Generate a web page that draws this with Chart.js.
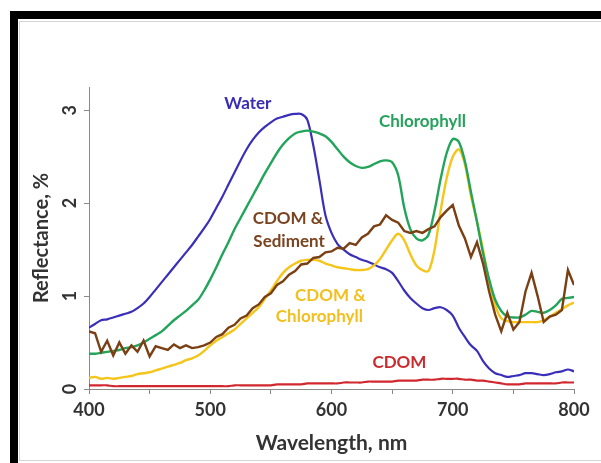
<!DOCTYPE html>
<html>
<head>
<meta charset="utf-8">
<script src="https://cdn.jsdelivr.net/npm/chart.js@4.4.1/dist/chart.umd.min.js"></script>
<style>
  body { margin:0; background:#fff; }
  #frame { position:absolute; left:10px; top:11px; width:591px; height:452px; border-top:8px solid #000; border-left:8px solid #000; box-sizing:border-box; }
  #inner { position:absolute; left:19px; top:21px; width:590px; height:440px; border:1px solid #d4d4d4; border-right:none; box-sizing:border-box; }
  #c { position:absolute; left:0; top:0; }
</style>
</head>
<body>
<div id="frame"></div>
<div id="inner"></div>
<canvas id="c" width="601" height="463"></canvas>
<script>
// wavelength, nm (every 5 nm)
const wavelengths = Array.from({length: 81}, (_, i) => 400 + 5 * i);

// Reflectance, %
const water = [
  0.66,0.70,0.74,0.75,0.77,0.79,0.81,0.83,0.87,0.92,
  0.99,1.07,1.15,1.23,1.31,1.39,1.47,1.55,1.64,1.73,
  1.83,1.95,2.07,2.20,2.33,2.46,2.58,2.68,2.76,2.82,
  2.87,2.91,2.93,2.95,2.96,2.96,2.90,2.62,2.25,1.87,
  1.68,1.56,1.50,1.45,1.42,1.39,1.37,1.34,1.31,1.29,
  1.25,1.16,1.06,0.98,0.92,0.87,0.85,0.87,0.88,0.85,
  0.79,0.66,0.56,0.47,0.41,0.30,0.22,0.17,0.15,0.13,
  0.14,0.15,0.17,0.17,0.16,0.15,0.16,0.18,0.19,0.21,
  0.19];
const chlorophyll = [
  0.38,0.38,0.39,0.40,0.41,0.42,0.44,0.45,0.47,0.50,
  0.54,0.58,0.62,0.68,0.74,0.79,0.84,0.90,0.96,1.06,
  1.18,1.31,1.45,1.58,1.72,1.84,1.96,2.08,2.20,2.32,
  2.43,2.54,2.63,2.70,2.75,2.77,2.78,2.77,2.75,2.72,
  2.66,2.58,2.50,2.44,2.40,2.38,2.39,2.42,2.45,2.46,
  2.44,2.30,1.95,1.72,1.62,1.60,1.66,1.92,2.26,2.54,
  2.69,2.66,2.45,2.12,1.80,1.46,1.18,0.96,0.84,0.78,
  0.77,0.77,0.80,0.84,0.83,0.82,0.85,0.90,0.97,0.98,
  0.99];
const cdomChl = [
  0.12,0.13,0.11,0.12,0.11,0.12,0.13,0.14,0.16,0.17,
  0.18,0.20,0.22,0.24,0.26,0.28,0.31,0.33,0.36,0.41,
  0.47,0.52,0.56,0.60,0.64,0.70,0.76,0.82,0.88,0.97,
  1.06,1.16,1.25,1.31,1.35,1.38,1.39,1.39,1.38,1.35,
  1.33,1.31,1.30,1.29,1.28,1.28,1.29,1.33,1.40,1.50,
  1.60,1.67,1.60,1.45,1.33,1.28,1.27,1.50,1.92,2.27,
  2.50,2.58,2.42,2.08,1.80,1.50,1.15,0.90,0.76,0.73,
  0.72,0.72,0.72,0.72,0.72,0.74,0.78,0.82,0.86,0.90,
  0.93];
const cdomSed = [
  0.62,0.60,0.40,0.52,0.36,0.50,0.38,0.47,0.40,0.52,
  0.35,0.46,0.44,0.42,0.48,0.44,0.47,0.44,0.45,0.47,
  0.50,0.56,0.59,0.66,0.69,0.76,0.79,0.87,0.91,0.99,
  1.03,1.12,1.16,1.23,1.27,1.34,1.35,1.41,1.42,1.47,
  1.48,1.52,1.51,1.57,1.55,1.63,1.67,1.75,1.77,1.87,
  1.82,1.79,1.70,1.68,1.70,1.68,1.72,1.75,1.85,1.92,
  1.98,1.76,1.62,1.42,1.58,1.35,1.05,0.80,0.62,0.82,
  0.64,0.72,1.05,1.25,1.00,0.72,0.78,0.80,0.85,1.28,
  1.12];
const cdom = [
  0.04,0.04,0.04,0.04,0.03,0.03,0.03,0.03,0.03,0.03,
  0.03,0.03,0.03,0.03,0.03,0.03,0.03,0.03,0.03,0.03,
  0.03,0.03,0.03,0.03,0.04,0.04,0.04,0.04,0.04,0.04,
  0.04,0.05,0.05,0.05,0.05,0.05,0.06,0.06,0.06,0.06,
  0.06,0.06,0.07,0.07,0.07,0.07,0.08,0.08,0.08,0.08,
  0.08,0.09,0.09,0.09,0.09,0.10,0.10,0.10,0.11,0.11,
  0.11,0.11,0.10,0.10,0.09,0.09,0.08,0.07,0.06,0.05,
  0.05,0.05,0.06,0.06,0.06,0.06,0.06,0.06,0.07,0.07,
  0.07];

const xTicks = [400, 500, 600, 700, 800];
const yTicks = [0, 1, 2, 3];

// labels written on the plot: [text, wavelength, reflectance, colour]
const notes = [
  ["Water", 531, 3.07, "#3a2db3"],
  ["Chlorophyll", 675, 2.88, "#25a35c"],
  ["CDOM &", 564, 1.83, "#7a4420"],
  ["Sediment", 565, 1.59, "#7a4420"],
  ["CDOM &", 599, 1.01, "#f2c01e"],
  ["Chlorophyll", 590, 0.775, "#f2c01e"],
  ["CDOM", 656, 0.28, "#cc2b2e"]
];

function pts(arr) { return wavelengths.map((w, i) => ({x: w, y: arr[i]})); }

const notesPlugin = {
  id: "notes",
  afterDatasetsDraw(chart) {
    const ctx = chart.ctx, xs = chart.scales.x, ys = chart.scales.y;
    ctx.save();
    ctx.font = "bold 17px Lato";
    ctx.textAlign = "center";
    ctx.textBaseline = "middle";
    notes.forEach(n => {
      ctx.fillStyle = n[3];
      ctx.fillText(n[0], xs.getPixelForValue(n[1]), ys.getPixelForValue(n[2]));
    });
    ctx.restore();
  }
};

const line = (label, data, color, tension, width) => ({
  label, data: pts(data), borderColor: color, borderWidth: width,
  pointRadius: 0, tension, fill: false
});

new Chart(document.getElementById("c"), {
  type: "line",
  data: {
    datasets: [
      line("CDOM & Sediment", cdomSed, "#7b3f14", 0, 2.4),
      line("Chlorophyll", chlorophyll, "#22a45a", 0.3, 2.4),
      line("CDOM & Chlorophyll", cdomChl, "#f6c51a", 0.3, 2.4),
      line("Water", water, "#3a2fb8", 0.3, 2.2),
      line("CDOM", cdom, "#d0282e", 0.3, 2.2)
    ]
  },
  plugins: [notesPlugin],
  options: {
    responsive: false,
    animation: false,
    devicePixelRatio: 1,
    layout: { padding: { top: 87, right: 27, left: 0, bottom: 0 } },
    plugins: { legend: { display: false }, tooltip: { enabled: false } },
    scales: {
      x: {
        type: "linear", min: 400, max: 800,
        afterFit: s => { s.height = 74; },
        grid: { drawOnChartArea: false, color: "#8a8a8a", tickLength: 5 },
        border: { color: "#8a8a8a", width: 1 },
        ticks: {
          stepSize: 50, padding: 5, color: "#333", maxRotation: 0,
          font: { family: "Lato", size: 18, weight: "bold" },
          callback: v => xTicks.includes(v) ? String(v) : ""
        },
        title: {
          display: true, text: "Wavelength, nm", color: "#333",
          font: { family: "Lato", size: 21, weight: "bold" },
          padding: { top: 0, bottom: 7 }
        }
      },
      y: {
        min: 0, max: 3.25,
        afterFit: s => { s.width = 89; },
        afterBuildTicks: s => { s.ticks = yTicks.map(v => ({value: v})); },
        grid: { drawOnChartArea: false, color: "#8a8a8a", tickLength: 5 },
        border: { color: "#8a8a8a", width: 1 },
        ticks: {
          color: "#333", minRotation: 90, maxRotation: 90, crossAlign: "center", padding: 9,
          font: { family: "Lato", size: 18, weight: "bold" }
        },
        title: {
          display: true, text: "Reflectance, %", color: "#333",
          font: { family: "Lato", size: 20, weight: "bold" },
          padding: { top: 30, bottom: 0 }
        }
      }
    }
  }
});
</script>
</body>
</html>
